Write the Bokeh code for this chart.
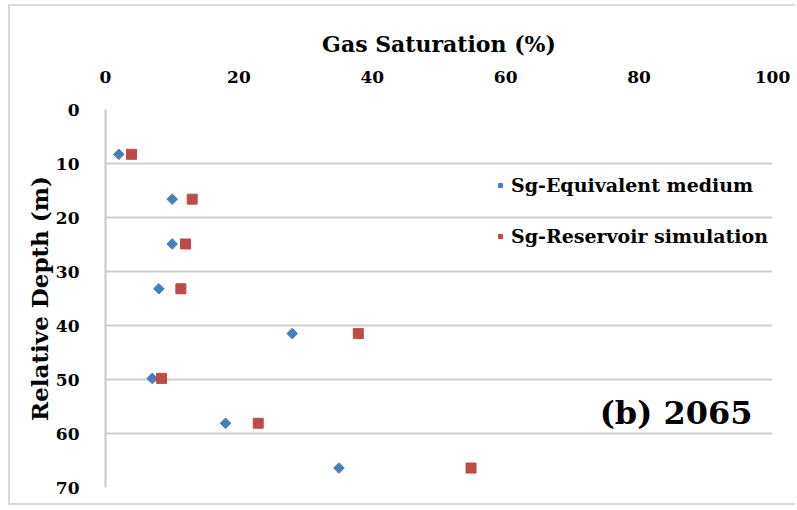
import math
from bokeh.plotting import figure
from bokeh.models import Range1d, FixedTicker, Legend, LegendItem, Label
from bokeh.embed import file_html
from bokeh.resources import INLINE

depth = [8.3, 16.6, 24.9, 33.2, 41.5, 49.8, 58.1, 66.4]
sg_equivalent = [2.0, 10.0, 10.0, 8.0, 28.0, 7.0, 18.0, 35.0]
sg_reservoir = [3.9, 13.0, 12.0, 11.3, 37.9, 8.4, 22.9, 54.8]
x_ticks = [0, 20, 40, 60, 80, 100]
y_ticks = [0, 10, 20, 30, 40, 50, 60, 70]
x_title = "Gas Saturation (%)"
y_title = "Relative Depth (m)"

FONT = "DejaVu Serif"
BLUE = "#4a7ebb"
RED = "#be4b48"

p = figure(width=787, height=501, output_backend="svg", toolbar_location=None,
           x_axis_location="above", x_range=Range1d(0, 100), y_range=Range1d(70, 0),
           min_border_left=95, min_border_right=25, min_border_top=103, min_border_bottom=20,
           styles={"margin-left": "8px", "margin-top": "4px",
                   "border-left": "2px solid #d9d9d9", "border-top": "2px solid #d9d9d9",
                   "border-bottom": "2px solid #d9d9d9"})
p.outline_line_color = None
p.background_fill_color = "white"
p.border_fill_color = "white"

p.xaxis.ticker = FixedTicker(ticks=x_ticks)
p.yaxis.ticker = FixedTicker(ticks=y_ticks)
p.xaxis.axis_label = x_title
p.yaxis.axis_label = y_title
for ax in (p.xaxis, p.yaxis):
    ax.axis_label_text_font = FONT
    ax.axis_label_text_font_style = "bold"
    ax.axis_label_text_color = "black"
    ax.major_label_text_font = FONT
    ax.major_label_text_font_style = "bold"
    ax.major_label_text_color = "black"
    ax.major_label_text_font_size = "17px"
    ax.major_tick_line_color = None
    ax.minor_tick_line_color = None
p.xaxis.axis_label_text_font_size = "22px"
p.yaxis.axis_label_text_font_size = "23px"
p.xaxis.axis_line_color = None
p.yaxis.axis_line_color = "#c8c8c8"
p.yaxis.axis_line_width = 2
p.xaxis.major_label_standoff = 21
p.yaxis.major_label_standoff = 20
p.xaxis.axis_label_standoff = 11
p.yaxis.axis_label_standoff = 0

p.xgrid.grid_line_color = None
p.ygrid.grid_line_color = "#cfcfcf"
p.ygrid.grid_line_width = 2

r1 = p.scatter(sg_equivalent, depth, marker="square", angle=math.pi / 4, size=7.5, color=BLUE)
r2 = p.scatter(sg_reservoir, depth, marker="square", size=10, color=RED)

legend = Legend(items=[LegendItem(label="Sg-Equivalent medium", renderers=[r1]),
                       LegendItem(label="Sg-Reservoir simulation", renderers=[r2])],
                location=(390, 240), label_text_font=FONT, label_text_font_style="bold",
                label_text_font_size="19px", label_text_color="black",
                glyph_width=10, glyph_height=10, label_standoff=6, spacing=29,
                border_line_color=None, background_fill_alpha=0)
p.add_layout(legend)

p.add_layout(Label(x=97, y=56.2, text="(b) 2065", text_font=FONT, text_font_style="bold",
                   text_font_size="32px", text_color="black", text_align="right",
                   text_baseline="alphabetic"))

open("out.html", "w").write(file_html(p, INLINE))
